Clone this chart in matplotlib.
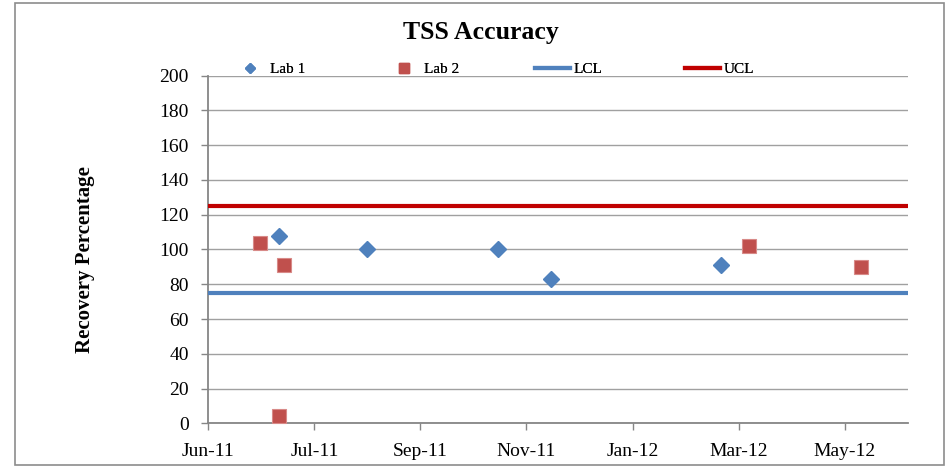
import matplotlib
matplotlib.use("Agg")
import matplotlib.pyplot as plt
import matplotlib.dates as mdates
from matplotlib.lines import Line2D
from matplotlib.patches import Rectangle
import numpy as np

plt.rcParams['font.family'] = ['Liberation Serif', 'DejaVu Serif']

lab1_dates = ['2011-07-11', '2011-08-30', '2011-11-12', '2011-12-12', '2012-03-17']
lab1_vals = [108, 100, 100, 83, 91]
lab2_dates = ['2011-06-30', '2011-07-14', '2011-07-11', '2012-04-02', '2012-06-04']
lab2_vals = [104, 91, 4, 102, 90]
LCL = 75
UCL = 125
tick_dates = ['2011-06-01', '2011-07-31', '2011-09-29', '2011-11-28',
              '2012-01-27', '2012-03-27', '2012-05-26']
tick_labels = ['Jun-11', 'Jul-11', 'Sep-11', 'Nov-11', 'Jan-12', 'Mar-12', 'May-12']
x_range = ['2011-06-01', '2012-07-01']
y_ticks = [0, 20, 40, 60, 80, 100, 120, 140, 160, 180, 200]

BLUE = '#4F81BD'
RED = '#C0504D'
DARKRED = '#C00000'
GRID = '#A0A0A0'
AXC = '#868686'

def d(lst):
    return mdates.datestr2num(lst)

W, H = 952, 469
fig = plt.figure(figsize=(W / 100, H / 100), dpi=100)
fig.patch.set_facecolor('white')
fig.add_artist(Rectangle((15 / W, 1 - 465 / H), (944 - 15) / W, (465 - 3) / H,
                         transform=fig.transFigure, fill=False,
                         edgecolor='#8C8C8C', linewidth=1.2))

ax = fig.add_axes([208.3 / W, 1 - 423.3 / H, 700 / W, (423.3 - 75.7) / H])
xlim = d(x_range)
ax.set_xlim(xlim[0], xlim[1])
ax.set_ylim(0, 200)
ax.set_yticks(y_ticks)
ax.set_xticks(d(tick_dates))
ax.set_xticklabels(tick_labels)

ax.yaxis.grid(True, color=GRID, linewidth=1.0)
ax.set_axisbelow(True)
for s in ['top', 'right']:
    ax.spines[s].set_visible(False)
for s in ['left', 'bottom']:
    ax.spines[s].set_color(AXC)
    ax.spines[s].set_linewidth(1.3)
ax.tick_params(axis='both', direction='out', length=5, color=AXC, width=1.0,
               labelsize=14)
ax.tick_params(axis='y', pad=9)
ax.tick_params(axis='x', pad=9.5)

ax.axhline(LCL, color=BLUE, linewidth=3.0, zorder=3)
ax.axhline(UCL, color=DARKRED, linewidth=3.0, zorder=3)

ax.plot(d(lab1_dates), lab1_vals, linestyle='none', marker='D', markersize=8,
        color=BLUE, markeredgecolor=BLUE, zorder=4, clip_on=False)
ax.plot(d(lab2_dates), lab2_vals, linestyle='none', marker='s', markersize=10,
        color=RED, markeredgecolor='#D88A88', markeredgewidth=0.8, zorder=4,
        clip_on=False)

ax.set_ylabel('Recovery Percentage', fontsize=15, fontweight='bold')
ax.yaxis.set_label_coords(-0.162, 0.47)
fig.text(481 / W, 1 - 32.5 / H, 'TSS Accuracy', ha='center', va='center',
         fontsize=18.5, fontweight='bold')

# legend entries
entries = [
    (Line2D([], [], linestyle='none', marker='D', markersize=5, color=BLUE), 'Lab 1', 232),
    (Line2D([], [], linestyle='none', marker='s', markersize=7, color=RED), 'Lab 2', 386),
    (Line2D([], [], color=BLUE, linewidth=3), 'LCL', 535),
    (Line2D([], [], color=DARKRED, linewidth=3), 'UCL', 685),
]
for h, lab, xp in entries:
    lg = fig.legend([h], [lab], loc='center left',
                    bbox_to_anchor=(xp / W, 1 - 69 / H), frameon=False,
                    fontsize=11, handlelength=2.3, handletextpad=0.2,
                    borderaxespad=0, borderpad=0)
    fig.add_artist(lg)

fig.savefig('out.png', dpi=100, facecolor='white')
